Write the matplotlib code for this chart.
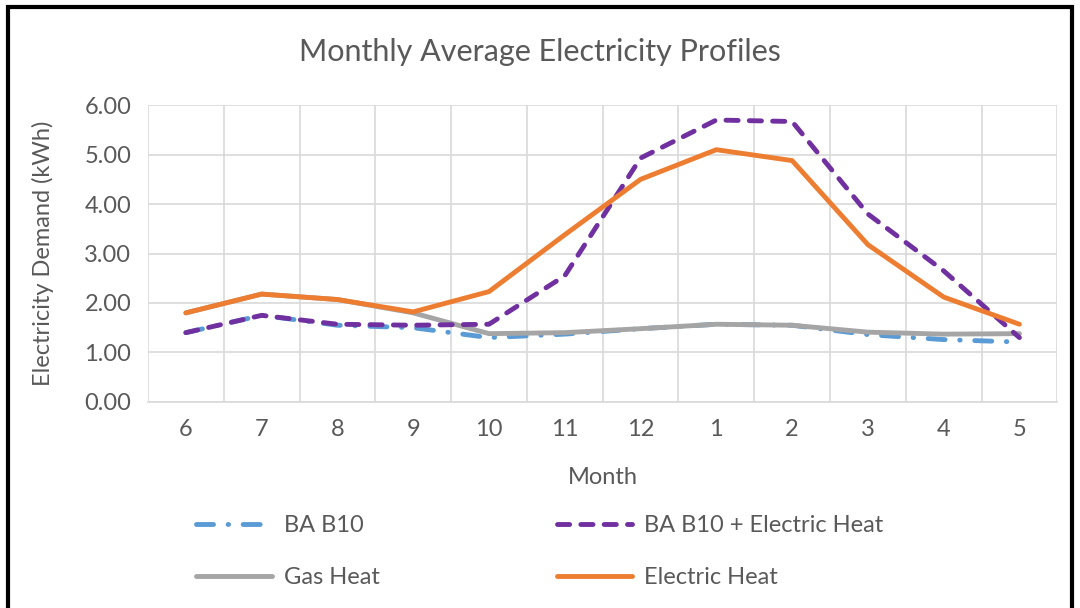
import matplotlib
matplotlib.use("Agg")
import matplotlib.pyplot as plt
import numpy as np
from matplotlib.patches import Rectangle

plt.rcParams['font.family'] = ['Lato', 'DejaVu Sans']

months = ['6', '7', '8', '9', '10', '11', '12', '1', '2', '3', '4', '5']
ba_b10 = [1.40, 1.75, 1.55, 1.50, 1.30, 1.37, 1.48, 1.57, 1.55, 1.36, 1.26, 1.21]
ba_b10_eh = [1.40, 1.75, 1.57, 1.55, 1.57, 2.55, 4.93, 5.70, 5.67, 3.80, 2.65, 1.30]
gas_heat = [1.80, 2.18, 2.07, 1.80, 1.38, 1.40, 1.48, 1.57, 1.55, 1.41, 1.37, 1.38]
electric_heat = [1.80, 2.18, 2.07, 1.82, 2.23, 3.38, 4.50, 5.10, 4.88, 3.18, 2.12, 1.57]

txt = '#595959'
grid = '#D9D9D9'

fig = plt.figure(figsize=(10.8, 6.08), dpi=100)
ax = fig.add_axes([0.137, 0.339, 0.842, 0.488])
x = np.arange(len(months))

l1, = ax.plot(x, ba_b10, color='#5B9BD5', lw=3.5, ls=(0, (3.5, 3, 0.1, 3)),
              dash_capstyle='round', label='BA B10', zorder=3)
l2, = ax.plot(x, ba_b10_eh, color='#7030A0', lw=3.5, ls=(0, (2.5, 2.3)),
              dash_capstyle='round', label='BA B10 + Electric Heat', zorder=4)
l3, = ax.plot(x, gas_heat, color='#A5A5A5', lw=3.5, solid_capstyle='round',
              label='Gas Heat', zorder=3)
l4, = ax.plot(x, electric_heat, color='#ED7D31', lw=3.5, solid_capstyle='round',
              label='Electric Heat', zorder=5)

ax.set_xlim(-0.5, len(months) - 0.5)
ax.set_ylim(0, 6)
ax.set_yticks(np.arange(0, 7, 1))
ax.set_yticklabels(['%.2f' % v for v in np.arange(0, 7, 1)])
ax.set_xticks(x)
ax.set_xticklabels(months)
ax.set_xticks(np.arange(-0.5, len(months), 1), minor=True)
ax.grid(True, which='major', axis='y', color=grid, lw=1.2)
ax.grid(True, which='minor', axis='x', color=grid, lw=1.2)
ax.tick_params(which='both', length=0, labelsize=17, colors=txt, pad=12)
for s in ['top', 'right', 'left']:
    ax.spines[s].set_visible(False)
ax.spines['bottom'].set_color(grid)
ax.spines['bottom'].set_linewidth(1.2)
ax.set_axisbelow(True)

ax.set_xlabel('Month', fontsize=17, color=txt, labelpad=20)
ax.set_ylabel('Electricity Demand (kWh)', fontsize=17, color=txt, labelpad=22)
fig.text(0.5, 0.915, 'Monthly Average Electricity Profiles', ha='center',
         va='center', fontsize=22, color=txt)

# legend filled row by row like the original
ax.legend([l1, l3, l2, l4], [l.get_label() for l in [l1, l3, l2, l4]],
          loc='upper left', bbox_to_anchor=(0.03, -0.31), ncol=2, frameon=False,
          fontsize=17, labelcolor=txt, handlelength=3.2, columnspacing=7.5,
          labelspacing=1.3, handletextpad=0.5)

fig.patches.append(Rectangle((0.007, -0.01), 0.986, 0.999, transform=fig.transFigure,
                             fill=False, edgecolor='black', lw=3))

fig.savefig('out.png', dpi=100)
